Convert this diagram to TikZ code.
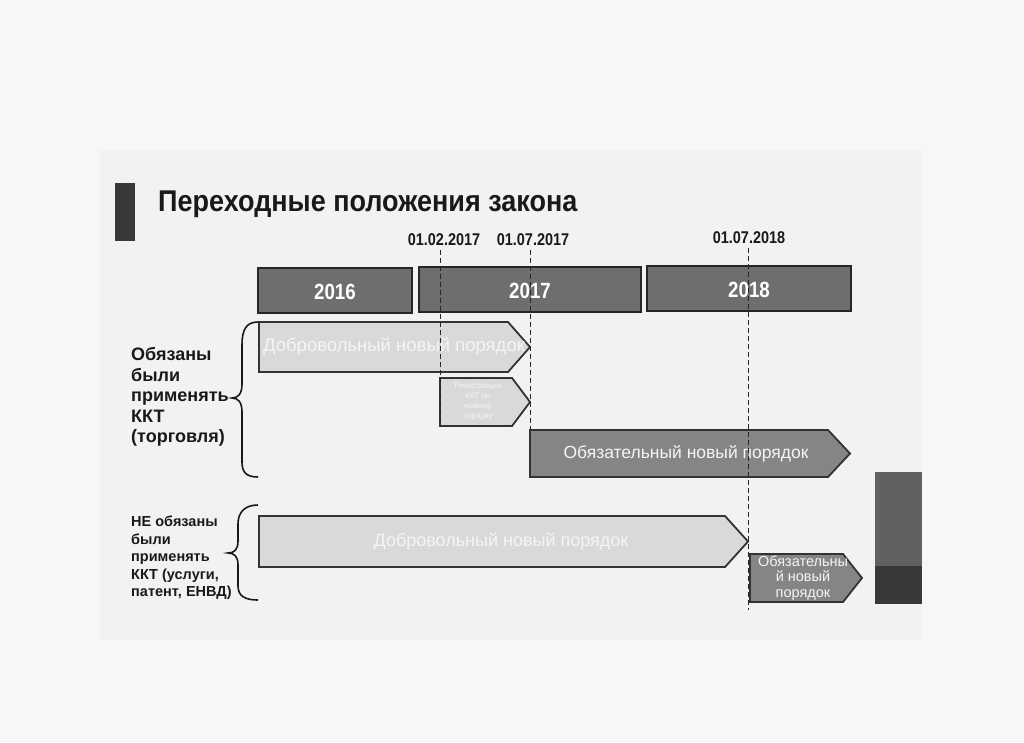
\documentclass[tikz,border=0pt]{standalone}
\usepackage{fontspec}
\setmainfont{Liberation Sans}
\newfontfamily\narrow[FakeStretch=0.85]{Liberation Sans}
\newfontfamily\narrowt[FakeStretch=0.9]{Liberation Sans}
\begin{document}
\begin{tikzpicture}[x=1pt,y=-1pt,
  arrlight/.style={draw=black!80,line width=1.8pt,fill=black!15,line join=miter},
  arrdark/.style={draw=black!80,line width=1.8pt,fill=black!48,line join=miter},
  yearbar/.style={draw=black!85,line width=1.2pt,fill=black!57},
  yeartxt/.style={text=white,font=\narrow\bfseries\fontsize{22}{22}\selectfont},
  datetxt/.style={font=\narrow\bfseries\fontsize{17}{17}\selectfont,text=black!90},
  arrtxt/.style={text=black!4,align=center},
  dashln/.style={black!85,line width=1pt,dash pattern=on 5pt off 3pt},
  brace/.style={draw=black!90,line width=1.6pt},
  lefttxt/.style={anchor=north west,align=left,font=\bfseries,text=black!90,inner sep=0pt}]
\useasboundingbox (0,0) rectangle (1024,742);
\fill[black!3] (0,0) rectangle (1024,742);
\fill[black!5] (100,150) rectangle (922,640);

% title
\fill[black!78] (115,183) rectangle (135,241);
\node[anchor=base west,inner sep=0pt,font=\narrowt\bfseries\fontsize{30}{30}\selectfont,text=black!90] (title) at (158,211) {Переходные положения закона};

% dates
\node[datetxt] (d1) at (444,240) {01.02.2017};
\node[datetxt] (d2) at (533,240) {01.07.2017};
\node[datetxt] (d3) at (749,238) {01.07.2018};

% year bars
\draw[yearbar] (258,268) rectangle (412,313);
\node[yeartxt] (y16) at (335,292) {2016};
\draw[yearbar] (419,267) rectangle (641,312);
\node[yeartxt] (y17) at (530,291) {2017};
\draw[yearbar] (647,266) rectangle (851,311);
\node[yeartxt] (y18) at (749,290) {2018};

% arrows upper group
\draw[arrlight] (259,322) -- (508,322) -- (530,347) -- (508,372) -- (259,372) -- cycle;
\node[arrtxt,font=\fontsize{18.5}{18.5}\selectfont] (a1) at (394,347) {Добровольный новый порядок};

\draw[arrlight] (440,378) -- (512,378) -- (530,402) -- (512,426) -- (440,426) -- cycle;
\node[arrtxt,font=\fontsize{8}{10}\selectfont] (a2) at (478,402) {Регистрация\\ККТ по\\новому\\порядку};

\draw[arrdark] (530,430) -- (828,430) -- (850,453.5) -- (828,477) -- (530,477) -- cycle;
\node[arrtxt,font=\fontsize{17.5}{17.5}\selectfont] (a3) at (686,453.5) {Обязательный новый порядок};

% arrows lower group
\draw[arrlight] (259,516) -- (725,516) -- (748,541.5) -- (725,567) -- (259,567) -- cycle;
\node[arrtxt,font=\fontsize{18}{18}\selectfont] (a4) at (501,541.5) {Добровольный новый порядок};

\draw[arrdark] (750,554) -- (843,554) -- (862,578) -- (843,602) -- (750,602) -- cycle;
\node[arrtxt,font=\fontsize{14.5}{15.5}\selectfont] (a5) at (803,578) {Обязательны\\й новый\\порядок};

% dashed date lines
\coordinate (e1) at (440,426);
\coordinate (e2) at (530,430);
\coordinate (e3) at (748,610);
\draw[dashln] (d1.south -| e1) -- (e1);
\draw[dashln] (d2.south -| e2) -- (e2);
\draw[dashln] (d3.south -| e3) -- (e3);

% right bar
\fill[black!62] (875,472) rectangle (922,566);
\fill[black!78] (875,566) rectangle (922,604);

% braces
\draw[brace] (258,322) .. controls (246,322) and (242,330) .. (242,345) -- (242,384)
  .. controls (242,394) and (238,398) .. (232,398)
  .. controls (238,398) and (242,402) .. (242,412) -- (242,462)
  .. controls (242,472) and (246,477) .. (258,477);
\draw[brace] (258,505) .. controls (245,505) and (238,512) .. (238,524) -- (238,541)
  .. controls (238,550) and (234,553) .. (228,553)
  .. controls (234,553) and (238,556) .. (238,565) -- (238,586)
  .. controls (238,596) and (245,600) .. (258,600);

% left labels
\node[lefttxt,font=\bfseries\fontsize{18}{20.6}\selectfont] (l1) at (131,347) {Обязаны\\были\\применять\\ККТ\\(торговля)};
\node[lefttxt,font=\bfseries\fontsize{14.5}{17.5}\selectfont] (l2) at (131,516) {НЕ обязаны\\были\\применять\\ККТ (услуги,\\патент, ЕНВД)};
\end{tikzpicture}
\end{document}
